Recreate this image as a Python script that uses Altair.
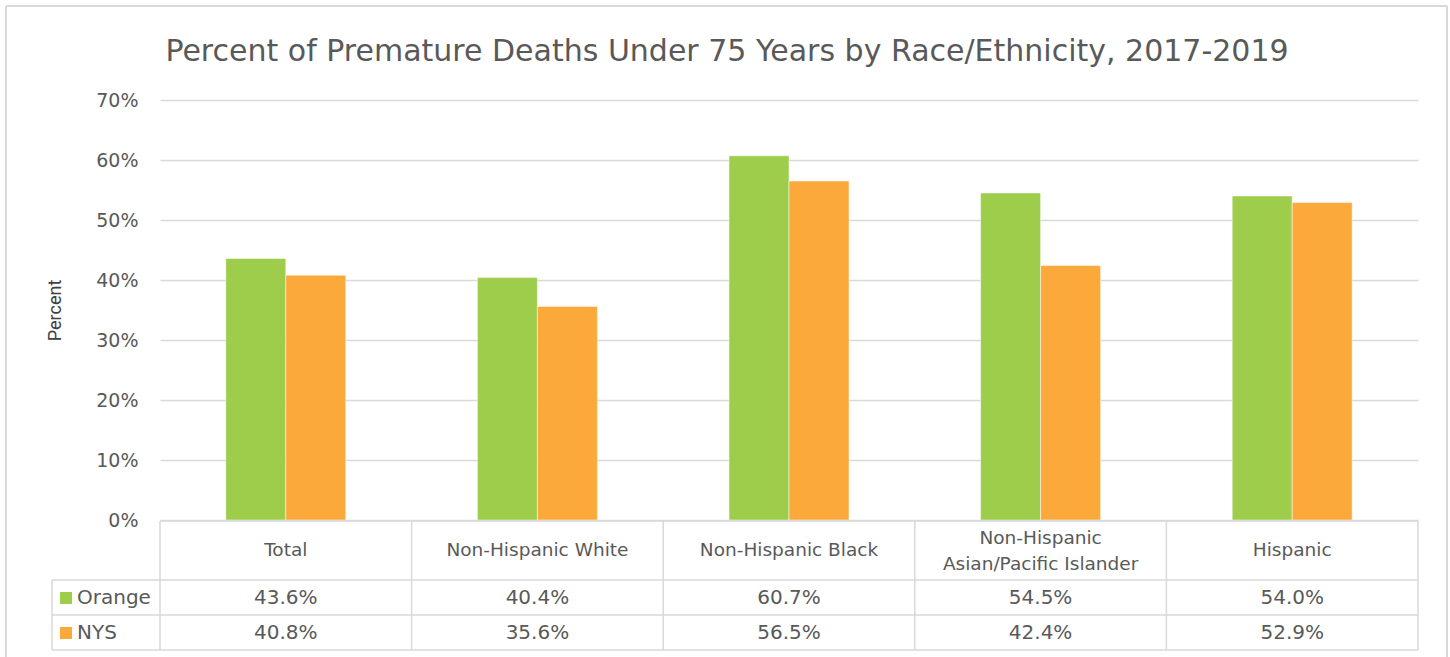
import altair as alt
import pandas as pd

# Premature deaths under 75, by race/ethnicity (percent of all deaths)
categories = [
    "Total",
    "Non-Hispanic White",
    "Non-Hispanic Black",
    "Non-Hispanic Asian/Pacific Islander",
    "Hispanic",
]
header_labels = [
    "Total",
    "Non-Hispanic White",
    "Non-Hispanic Black",
    "Non-Hispanic\nAsian/Pacific Islander",
    "Hispanic",
]
series_names = ["Orange", "NYS"]
orange_values = [43.6, 40.4, 60.7, 54.5, 54.0]
nys_values = [40.8, 35.6, 56.5, 42.4, 52.9]
series_colors = ["#9DCD4B", "#FBA93B"]

title_text = "Percent of Premature Deaths Under 75 Years by Race/Ethnicity, 2017-2019"

W, H = 1258, 420
FONT = "DejaVu Sans"
TXT = "#595959"
GRID = "#D9D9D9"

rows = []
for s, vals in zip(series_names, [orange_values, nys_values]):
    for c, v in zip(categories, vals):
        rows.append({"category": c, "series": s, "value": v})
df = pd.DataFrame(rows)
hdr = pd.DataFrame({"category": categories, "header": header_labels})
hdr["lines"] = hdr["header"].str.count("\n") + 1

pad_inner = 1 - 120 / (W / 5)
x_scale = alt.Scale(domain=categories, paddingInner=pad_inner, paddingOuter=pad_inner / 2)
x_enc = alt.X("category:N", sort=categories, scale=x_scale, axis=None)
color_enc = alt.Color(
    "series:N",
    scale=alt.Scale(domain=series_names, range=series_colors),
    legend=None,
)

bars = alt.Chart(df).mark_bar(stroke="white", strokeWidth=1, strokeOpacity=0.5).encode(
    x=x_enc,
    xOffset=alt.XOffset("series:N", sort=series_names, scale=alt.Scale(domain=series_names)),
    y=alt.Y(
        "value:Q",
        scale=alt.Scale(domain=[0, 70]),
        axis=alt.Axis(
            values=[0, 10, 20, 30, 40, 50, 60, 70],
            labelExpr="datum.value + '%'",
            labelFont=FONT,
            labelFontSize=19,
            labelColor=TXT,
            labelPadding=22,
            grid=True,
            gridColor=GRID,
            gridWidth=1.5,
            domain=False,
            ticks=False,
            title="Percent",
            titleFont="Roboto",
            titleFontSize=18,
            titleFontWeight="normal",
            titleColor="#404040",
            titleAngle=-90,
            titleX=-105,
            titleY=H / 2,
            titleBaseline="middle",
        ),
    ),
    color=color_enc,
)

one = alt.Data(values=[{}])


def hrule(x0, x1, y, width=1.5, color=GRID):
    return alt.Chart(one).mark_rule(color=color, strokeWidth=width).encode(
        x=alt.value(x0), x2=alt.value(x1), y=alt.value(y)
    )


def vrule(x, y0, y1, width=1.5, color=GRID):
    return alt.Chart(one).mark_rule(color=color, strokeWidth=width).encode(
        x=alt.value(x), y=alt.value(y0), y2=alt.value(y1)
    )


# Data table under the plot
row_head_bottom = 60
row1_bottom = 95
row2_bottom = 130
legend_left = -108

table_rules = [hrule(0, W, H + 1)]
for i in range(6):
    table_rules.append(vrule(round(i * W / 5, 1), H + 1, H + row2_bottom))
for yy in (row_head_bottom, row1_bottom, row2_bottom):
    table_rules.append(hrule(legend_left, W, H + yy))
table_rules.append(vrule(legend_left, H + row_head_bottom, H + row2_bottom))

header_style = dict(font=FONT, fontSize=18.5, color=TXT, baseline="middle", lineBreak="\n", lineHeight=26)
header_single = alt.Chart(hdr).transform_filter(alt.datum.lines == 1).mark_text(**header_style).encode(
    x=x_enc, y=alt.value(H + 30), text="header:N"
)
header_double = alt.Chart(hdr).transform_filter(alt.datum.lines == 2).mark_text(**header_style).encode(
    x=x_enc, y=alt.value(H + 18), text="header:N"
)

value_layers = []
row_centers = {"Orange": H + 78, "NYS": H + 113}
for s in series_names:
    value_layers.append(
        alt.Chart(df)
        .transform_filter(alt.datum.series == s)
        .transform_calculate(label="format(datum.value, '.1f') + '%'")
        .mark_text(font=FONT, fontSize=20, color=TXT, baseline="middle")
        .encode(x=x_enc, y=alt.value(row_centers[s]), text="label:N")
    )

legend_df = pd.DataFrame({"series": series_names})
legend_layers = []
for s in series_names:
    legend_layers.append(
        alt.Chart(legend_df)
        .transform_filter(alt.datum.series == s)
        .mark_square(size=144, opacity=1)
        .encode(x=alt.value(-94), y=alt.value(row_centers[s]), color=color_enc)
    )
    legend_layers.append(
        alt.Chart(legend_df)
        .transform_filter(alt.datum.series == s)
        .mark_text(font=FONT, fontSize=20, color=TXT, align="left", baseline="middle")
        .encode(x=alt.value(-83), y=alt.value(row_centers[s]), text="series:N")
    )

title = alt.Chart(one).mark_text(
    text=title_text, font=FONT, fontSize=30, color=TXT, align="center", baseline="alphabetic"
).encode(x=alt.value(727 - 160), y=alt.value(61 - 100))

# Frame around the whole figure
frame = [
    vrule(-154, -94, H + 137, width=2),
    vrule(1287, -94, H + 137, width=2),
    hrule(-154, 1287, -94, width=2),
]

chart = alt.layer(
    bars, header_single, header_double, *value_layers, *legend_layers, *table_rules, title, *frame
).properties(
    width=W,
    height=H,
    background="white",
    autosize=alt.AutoSizeParams(type="none"),
    padding={"left": 160, "top": 100, "right": 32, "bottom": 137},
).configure_view(stroke=None, strokeWidth=0)

chart.save("out.html", embed_options={"renderer": "svg", "actions": False})
